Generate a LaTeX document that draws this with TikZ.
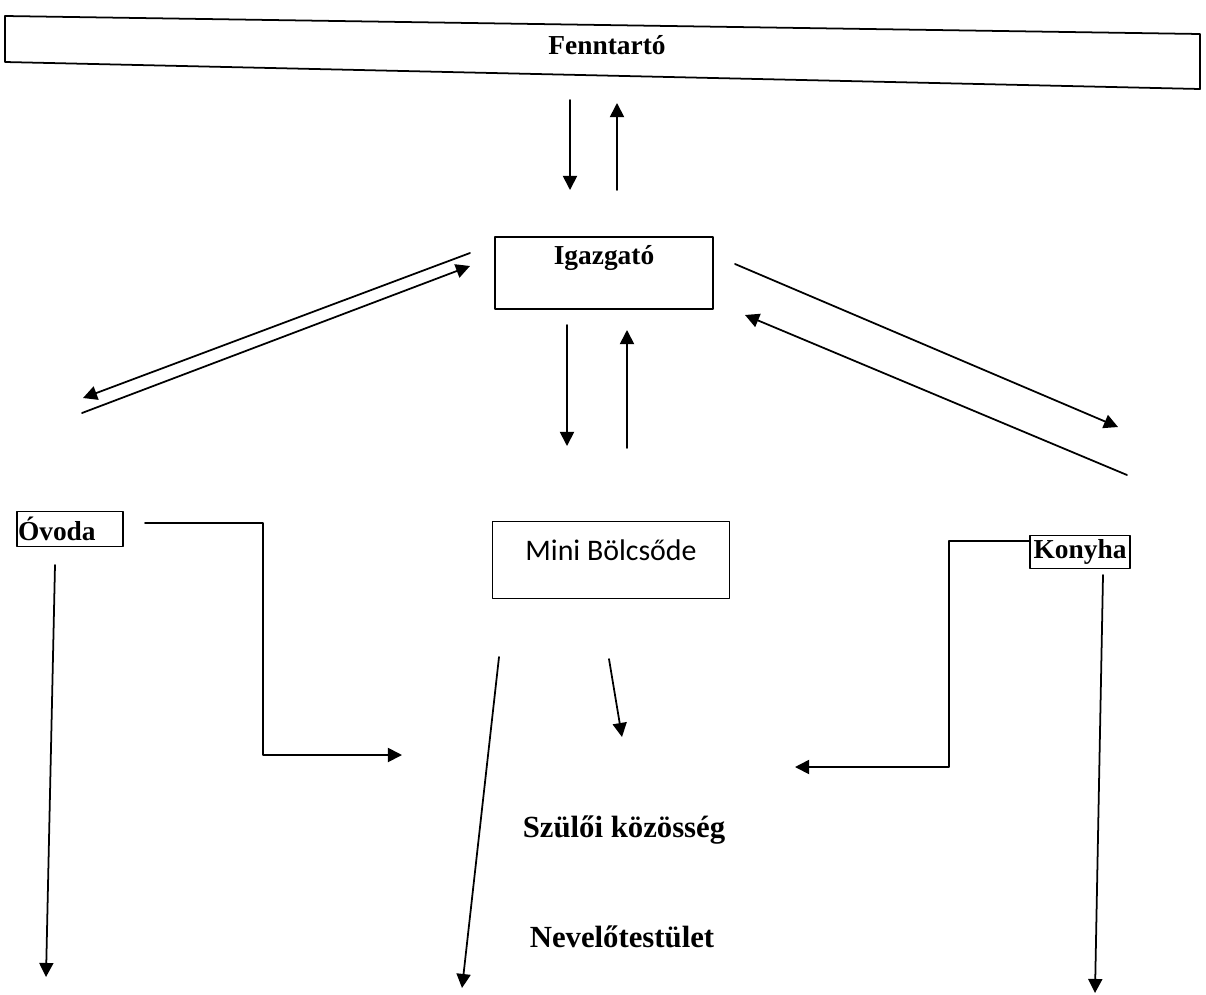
\documentclass[tikz,border=0pt]{standalone}
\usepackage{fontspec}
\setmainfont{Liberation Serif}
\newfontfamily\calibri{Carlito}
\usetikzlibrary{arrows.meta}

\begin{document}
\begin{tikzpicture}[x=0.02cm,y=-0.02cm,line cap=round,line join=round]
  % ----- styles -----
  \tikzset{
    box/.style={draw=black,line width=1pt,inner sep=0pt},
    lbl/.style={font=\fontsize{15.6}{18}\selectfont\bfseries},
    big/.style={font=\fontsize{17.5}{20}\selectfont\bfseries},
    arr/.style={draw=black,line width=1pt,-{Triangle[length=8pt,width=8pt]}},
    ln/.style={draw=black,line width=1pt}
  }
  \useasboundingbox (0,0) rectangle (1206,994);

  % ----- boxes -----
  \node[lbl] (fenn) at (607,45) {Fenntartó};
  \draw[box] (5,16) -- (1200,34) -- (1200,89) -- (5,62) -- cycle;

  \node[box,minimum width=4.36cm,minimum height=1.44cm,
        label={[lbl,yshift=0.3cm]center:Igazgató}] (igaz) at (604,273) {};
  \node[box,minimum width=4.74cm,minimum height=1.54cm,
        label={[font=\calibri\fontsize{17}{19}\selectfont,yshift=0.2cm]center:Mini Bölcsőde}] (mini) at (611,560) {};
  \node[box,lbl,text width=2.08cm,inner xsep=0.02cm,align=left,
        minimum height=0.7cm] (ovoda) at (70,529) {Óvoda};
  \node[box,lbl,minimum width=2.0cm,minimum height=0.66cm] (konyha) at (1080,552) {Konyha};

  \node[big] (szulo) at (624,830) {Szülői közösség};
  \node[big] (nevelo) at (622,937) {Nevelőtestület};

  % ----- arrow ends -----
  \coordinate (fd1) at (570,100);  \coordinate (fd2) at (570,190);
  \coordinate (fu1) at (617,190);  \coordinate (fu2) at (617,103);
  \coordinate (il1) at (470,253);  \coordinate (il2) at (83,398);
  \coordinate (ir1) at (82,413);   \coordinate (ir2) at (470,266);
  \coordinate (rd1) at (735,264);  \coordinate (rd2) at (1118,427);
  \coordinate (ru1) at (1127,475); \coordinate (ru2) at (745,315);
  \coordinate (md1) at (567,325);  \coordinate (md2) at (567,446);
  \coordinate (mu1) at (627,448);  \coordinate (mu2) at (627,330);
  \coordinate (od1) at (55,565);   \coordinate (od2) at (46,977);
  \coordinate (bl1) at (499,657);  \coordinate (bl2) at (462,988);
  \coordinate (bs1) at (609,659);  \coordinate (bs2) at (622,737);
  \coordinate (kd1) at (1103,575); \coordinate (kd2) at (1095,993);

  % straight arrows
  \foreach \a/\b in {fd1/fd2,fu1/fu2,il1/il2,ir1/ir2,rd1/rd2,ru1/ru2,
                     md1/md2,mu1/mu2,od1/od2,bl1/bl2,bs1/bs2,kd1/kd2}{
    \draw[arr] (\a) -- (\b);
  }

  % elbow arrows to the parents
  \coordinate (ov1) at (145,523);  \coordinate (ov2) at (402,755);
  \draw[arr] (ov1) -- (263,523) -- (263,755) -- (ov2);
  \coordinate (ko1) at (1030,541); \coordinate (ko2) at (795,767);
  \draw[arr] (ko1) -- (949,541) -- (949,767) -- (ko2);

\end{tikzpicture}
\end{document}
